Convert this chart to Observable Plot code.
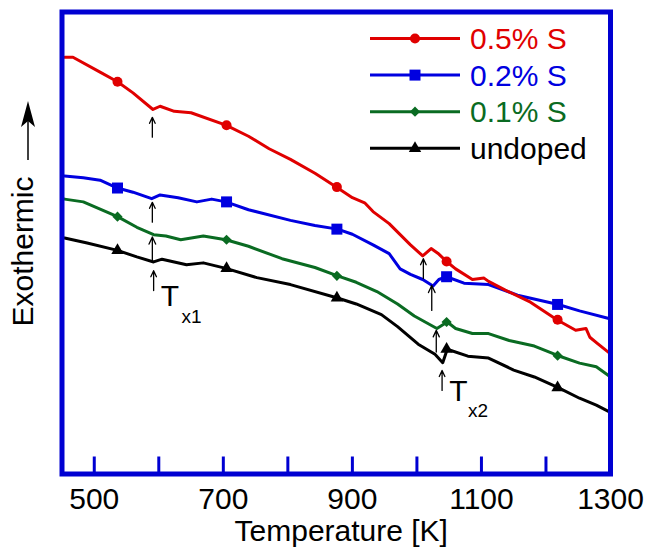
<!DOCTYPE html>
<html>
<head>
<meta charset="utf-8">
<script src="https://cdn.jsdelivr.net/npm/d3@7"></script>
<script src="https://cdn.jsdelivr.net/npm/@observablehq/plot@0.6"></script>
<style>
  html, body { margin: 0; padding: 0; background: #fff; }
  #wrap { position: relative; width: 646px; height: 547px; }
  #wrap svg { position: absolute; left: 0; top: 0; }
</style>
</head>
<body>
<div id="wrap"></div>
<script>
// ---------- data (temperature [K], heat flow [a.u.]) ----------
const s05 = [[454,90.2],[467,90.2],[509,87.0],[536,84.9],[560,82.5],[591,78.9],[602,79.6],[624,78.5],[650,78.2],[704,75.5],[739,73.1],[771,70.4],[804,68.1],[842,65.1],[875,62.1],[900,59.8],[919,58.7],[932,56.8],[957,54.2],[990,49.6],[1009,47.2],[1022,48.8],[1034,47.6],[1046,46.0],[1060,44.4],[1086,42.1],[1104,42.4],[1111,41.7],[1137,39.8],[1176,37.2],[1217,33.4],[1246,31.1],[1262,31.5],[1268,29.6],[1281,28.1],[1299,26.1]];
const s02 = [[454,64.5],[483,64.1],[509,63.6],[536,61.9],[560,61.0],[589,59.6],[602,60.4],[630,59.8],[659,58.9],[682,59.5],[704,58.9],[739,57.2],[804,54.9],[842,53.8],[877,53.0],[900,51.9],[932,49.6],[957,47.7],[974,44.4],[990,43.2],[1009,42.1],[1025,40.7],[1034,42.1],[1046,42.7],[1073,41.3],[1111,41.0],[1156,38.7],[1219,36.7],[1252,35.3],[1299,33.6]];
const s01 = [[454,59.5],[483,58.9],[536,55.7],[566,53.4],[592,51.8],[611,51.5],[634,50.7],[669,51.5],[704,50.7],[739,49.3],[791,46.6],[842,44.7],[877,42.9],[906,41.5],[938,39.5],[970,36.8],[996,34.2],[1031,31.5],[1047,32.9],[1060,31.5],[1086,30.4],[1111,30.4],[1143,28.9],[1182,27.7],[1219,25.6],[1252,24.0],[1278,23.2],[1299,21.1]];
const s00 = [[454,51.1],[489,50.0],[536,48.4],[566,47.0],[592,45.9],[605,46.5],[643,45.3],[669,45.7],[704,44.5],[752,42.5],[804,41.0],[877,38.1],[906,36.8],[945,34.5],[970,31.9],[1002,28.1],[1028,25.9],[1040,24.1],[1047,27.0],[1079,25.5],[1111,25.1],[1150,22.5],[1182,21.0],[1219,18.7],[1252,16.4],[1278,14.9],[1299,13.4]];

const markerT = [536, 705, 876, 1046, 1218];
const m05 = [84.9, 75.5, 62.1, 46.0, 33.4];
const m02 = [61.9, 58.9, 53.0, 42.7, 36.7];
const m01 = [55.7, 50.7, 42.9, 32.9, 25.6];
const m00 = [48.4, 44.5, 38.1, 27.0, 18.7];

const seriesNames = ["0.5% S", "0.2% S", "0.1% S", "undoped"];
const xTickLabels = [500, 700, 900, 1100, 1300];
const xTickMarks = [500, 600, 700, 800, 900, 1000, 1100, 1200];

// Tx arrows: [T, tail value, tip value]
const tx1Arrows = [[590, 72.9, 77.2], [590, 54.5, 58.8], [590, 46.2, 51.3], [592, 39.7, 44.0]];
const tx2Arrows = [[1010, 42.3, 46.6], [1023, 35.4, 40.8], [1030, 26.4, 31.1], [1039, 18.1, 22.4]];
// labels: [T, value, main, sub T, sub value, sub]
const txLabels = [[603, 36.3, "T", 635, 32.6, "x1"], [1050, 15.9, "T", 1079, 12.3, "x2"]];

// ---------- styles ----------
const colors = ["#e00000", "#0000e0", "#0a6b22", "#000000"];
const symbols = ["circle", "square", "diamond2", "triangle"];
const symbolR = [5, 6.2, 4.6, 4.6];
const frameBlue = "#0000d2";
const font = "'Liberation Sans', Arial, Helvetica, sans-serif";

const curves = [s05, s02, s01, s00];
const markVals = [m05, m02, m01, m00];

const lineData = [];
curves.forEach((c, i) => c.forEach(([T, v]) => lineData.push({T, v, s: seriesNames[i]})));
const dotData = [];
markVals.forEach((arr, i) => arr.forEach((v, k) => dotData.push({T: markerT[k], v, i})));
const arrowData = [...tx1Arrows, ...tx2Arrows].map(([T, a, b]) => ({T, a, b}));
const labelData = txLabels.map(([T, v, t, sT, sV, s]) => ({T, v, t, sT, sV, s}));

const drawOrder = [3, 2, 1, 0];
const lineMarks = drawOrder.map(i => Plot.line(lineData.filter(d => d.s === seriesNames[i]), {
  x: "T", y: "v", stroke: colors[i], strokeWidth: 3, strokeLinejoin: "round"
}));
const dotMarks = drawOrder.map(i => Plot.dot(dotData.filter(d => d.i === i), {
  x: "T", y: "v", symbol: () => symbols[i], r: symbolR[i], fill: colors[i], stroke: "none"
}));

const plot = Plot.plot({
  width: 646, height: 547,
  marginLeft: 61.5, marginRight: 36, marginTop: 11.5, marginBottom: 73.5,
  x: {domain: [450, 1300]},
  y: {domain: [0, 100], axis: null},
  symbol: {type: "identity"},
  style: {fontFamily: font, background: "white", color: "black"},
  marks: [
    Plot.ruleX(xTickMarks, {stroke: frameBlue, strokeWidth: 3, insetTop: 445}),
    ...lineMarks,
    ...dotMarks,
    Plot.arrow(arrowData, {x1: "T", x2: "T", y1: "a", y2: "b", stroke: "black", strokeWidth: 1.3, headLength: 9, headAngle: 50}),
    Plot.text(labelData, {x: "T", y: "v", text: "t", fontSize: 30, textAnchor: "start", lineAnchor: "bottom", fill: "black"}),
    Plot.text(labelData, {x: "sT", y: "sV", text: "s", fontSize: 19, textAnchor: "start", lineAnchor: "bottom", fill: "black"}),
    Plot.frame({stroke: frameBlue, strokeWidth: 5}),
    Plot.axisX(xTickLabels, {tickSize: 0, tickPadding: 13.5, fontSize: 30, label: null, fill: "black", tickFormat: d => String(d)}),
    Plot.text(["Temperature [K]"], {frameAnchor: "bottom", dy: 67, dx: 5, lineAnchor: "bottom", fontSize: 30, fill: "black"})
  ]
});

const wrap = document.getElementById("wrap");
wrap.appendChild(plot);

// ---------- overlay: legend and y label ----------
const ov = d3.select(wrap).append("svg")
  .attr("width", 646).attr("height", 547)
  .style("pointer-events", "none")
  .attr("font-family", font);

const d3sym = {circle: d3.symbolCircle, square: d3.symbolSquare, diamond2: d3.symbolDiamond2 || d3.symbolDiamond, triangle: d3.symbolTriangle};
const legendTop = 38.5, legendStep = 36.6;
seriesNames.forEach((name, i) => {
  const cy = legendTop + i * legendStep;
  const g = ov.append("g").attr("transform", `translate(0,${cy})`);
  g.append("line").attr("x1", 370).attr("x2", 460).attr("y1", 0).attr("y2", 0)
    .attr("stroke", colors[i]).attr("stroke-width", 3);
  g.append("path").attr("transform", "translate(415,0)")
    .attr("d", d3.symbol(d3sym[symbols[i]], Math.PI * symbolR[i] * symbolR[i])())
    .attr("fill", colors[i]);
  g.append("text").attr("x", 470).attr("y", 10.5).attr("font-size", 30)
    .attr("fill", colors[i]).text(name);
});

// y label with arrow
ov.append("text")
  .attr("transform", "translate(33,251.5) rotate(-90)")
  .attr("text-anchor", "middle").attr("font-size", 30).attr("fill", "black")
  .text("Exothermic");
ov.append("line").attr("x1", 28).attr("x2", 28).attr("y1", 160).attr("y2", 120)
  .attr("stroke", "black").attr("stroke-width", 1.5);
ov.append("path").attr("d", "M28,101 L35,127 L28,121 L21,127 Z").attr("fill", "black");
</script>
</body>
</html>
